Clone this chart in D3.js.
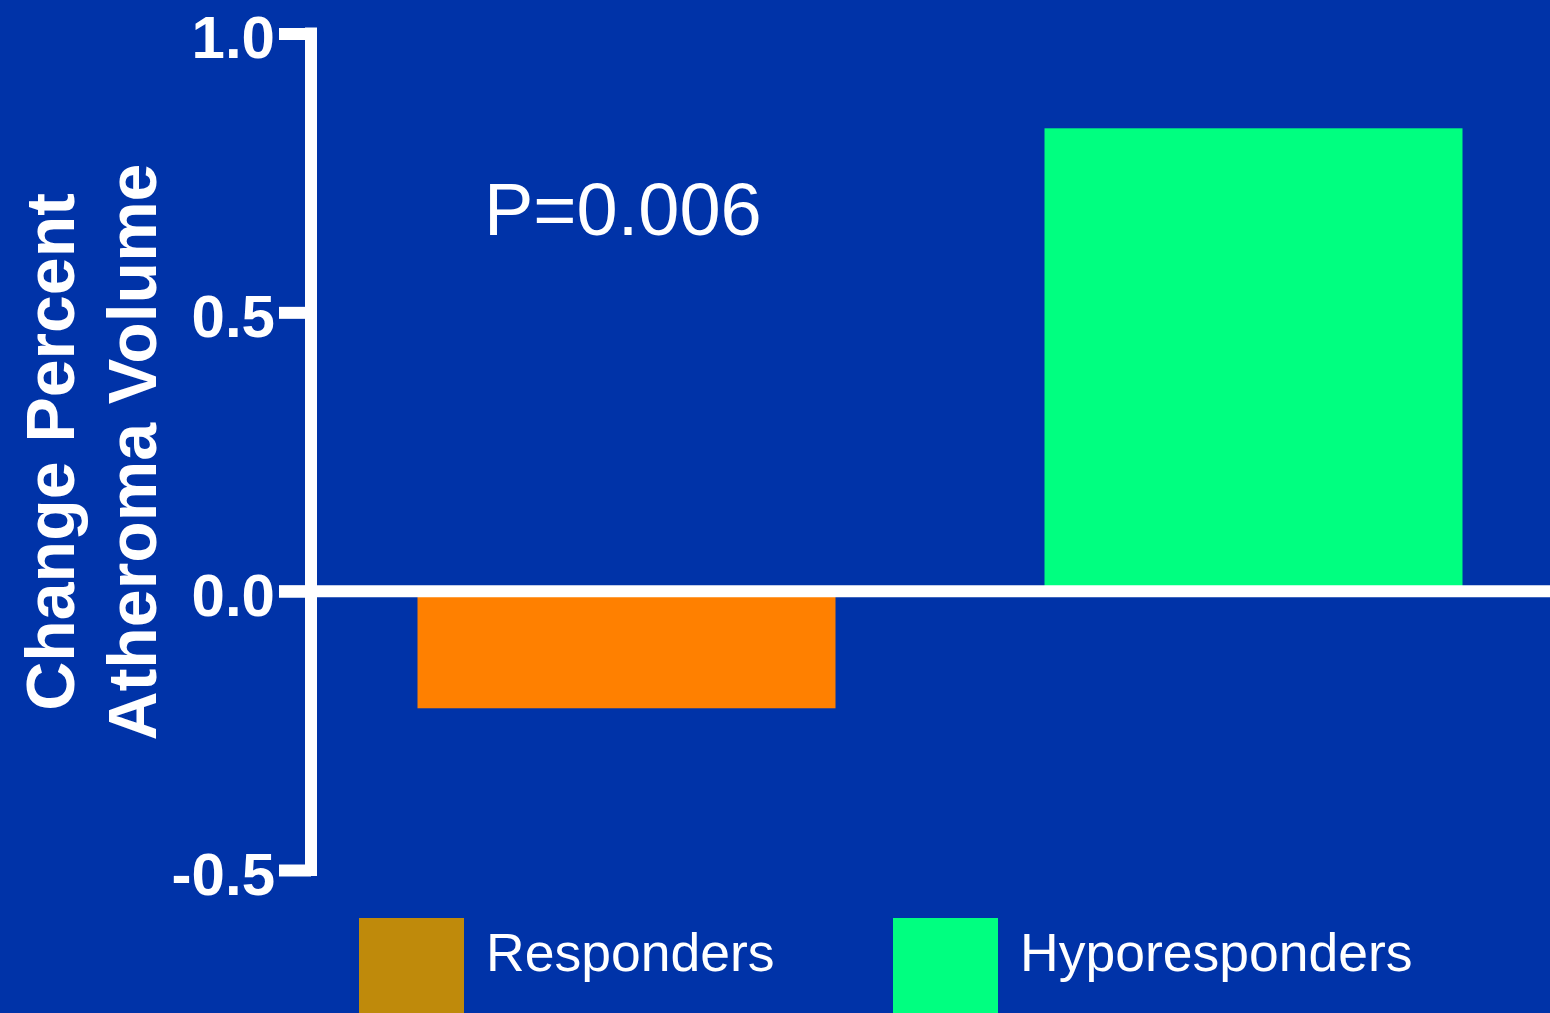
<!DOCTYPE html>
<html>
<head>
<meta charset="utf-8">
<script src="https://cdn.jsdelivr.net/npm/d3@7"></script>
<style>
  html, body { margin: 0; padding: 0; background: #0033A8; overflow: hidden; }
  text { font-family: "Liberation Sans", Arial, sans-serif; fill: #ffffff; }
</style>
</head>
<body>
<svg id="chart" width="1550" height="1013"></svg>
<script>
// ---- data ----
const categories = ["Responders", "Hyporesponders"];
const values = [-0.21, 0.83];
const barColors = ["#FF8000", "#00FF80"];
const legendColors = ["#BF8A0B", "#00FF80"];
const tickValues = [1.0, 0.5, 0.0, -0.5];
const tickLabels = ["1.0", "0.5", "0.0", "-0.5"];
const yTitleLines = ["Change Percent", "Atheroma Volume"];
const annotation = "P=0.006";

// ---- layout ----
const W = 1550, H = 1013;
const svg = d3.select("#chart");
svg.append("rect").attr("width", W).attr("height", H).attr("fill", "#0033A8");

const axisX = 311;
const y = d3.scaleLinear().domain([-0.5, 1.0]).range([870, 33.5]);
const x = d3.scaleBand().domain(categories).range([313, 1567])
  .paddingInner(1/3).paddingOuter(1/6);

// bars
svg.append("g").selectAll("rect").data(categories).join("rect")
  .attr("x", d => x(d))
  .attr("width", x.bandwidth())
  .attr("y", (d, i) => y(Math.max(0, values[i])))
  .attr("height", (d, i) => Math.abs(y(values[i]) - y(0)))
  .attr("fill", (d, i) => barColors[i]);

// y axis
const axis = d3.axisLeft(y).tickValues(tickValues).tickSize(32).tickSizeOuter(0)
  .tickFormat((d, i) => tickLabels[i]);
const g = svg.append("g").attr("transform", `translate(${axisX},0)`).call(axis);
g.select(".domain").attr("stroke", "#fff").attr("stroke-width", 12).attr("stroke-linecap", "square")
  .attr("d", `M0,${y(1.0)}V${y(-0.5)}`);
g.selectAll(".tick line").attr("stroke", "#fff").attr("stroke-width", 12);
g.selectAll(".tick text")
  .attr("x", -36).attr("dy", "0.4em")
  .style("font-family", '"Liberation Sans", Arial, sans-serif')
  .style("font-size", "60px").style("font-weight", "bold")
  .attr("fill", "#fff").attr("text-anchor", "end");

// zero line across
svg.append("line")
  .attr("x1", axisX - 32).attr("x2", W)
  .attr("y1", y(0)).attr("y2", y(0))
  .attr("stroke", "#fff").attr("stroke-width", 12);

// y title
const title = svg.append("text")
  .attr("transform", "translate(0,452) rotate(-90)")
  .attr("text-anchor", "middle")
  .style("font-size", "68px").style("font-weight", "bold");
yTitleLines.forEach((t, i) => {
  title.append("tspan").attr("x", 0).attr("y", 74 + i * 82).text(t);
});

// annotation
svg.append("text").attr("x", 484).attr("y", 235)
  .style("font-size", "74px").text(annotation);

// legend
const legendX = [359, 893];
const lg = svg.append("g");
categories.forEach((c, i) => {
  lg.append("rect").attr("x", legendX[i]).attr("y", 918)
    .attr("width", 105).attr("height", 100).attr("fill", legendColors[i]);
  lg.append("text").attr("x", legendX[i] + 127).attr("y", 971)
    .style("font-size", "53.5px").text(c);
});
</script>
</body>
</html>
